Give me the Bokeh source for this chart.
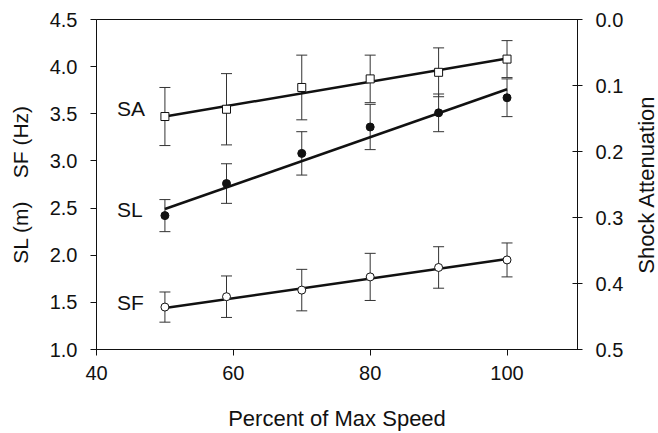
import math
from bokeh.plotting import figure
from bokeh.layouts import row
from bokeh.models import (Range1d, LinearAxis, Whisker, TeeHead, ColumnDataSource,
                          FixedTicker, NumeralTickFormatter)
from bokeh.core.properties import value
from bokeh.embed import file_html
from bokeh.resources import INLINE

# ---- data ----
speed = [50, 59, 70, 80, 90, 100]

sl_mean = [2.42, 2.76, 3.08, 3.36, 3.51, 3.67]
sl_sd = [0.17, 0.21, 0.23, 0.24, 0.20, 0.20]

sf_mean = [1.45, 1.56, 1.63, 1.77, 1.87, 1.95]
sf_sd = [0.16, 0.22, 0.22, 0.25, 0.22, 0.18]

# shock attenuation (right axis, inverted)
sa_mean = [0.147, 0.136, 0.103, 0.090, 0.080, 0.060]
sa_sd = [0.044, 0.054, 0.049, 0.036, 0.037, 0.028]

fit_x = [50, 100]
sl_fit = [2.49, 3.76]
sf_fit = [1.44, 1.96]
sa_fit = [0.147, 0.059]

label_x = [43.0, 43.0, 43.0]
label_y = [3.56, 2.49, 1.50]
label_text = ["SA", "SL", "SF"]

left_ticks = [1.0, 1.5, 2.0, 2.5, 3.0, 3.5, 4.0, 4.5]
right_ticks = [0.0, 0.1, 0.2, 0.3, 0.4, 0.5]
x_ticks = [40, 60, 80, 100]

right_title = "Shock Attenuation"

FONT = "Liberation Sans"
INK = "#111111"
NB = "\u00a0"

MAIN_W, STRIP_W, H = 630, 28, 433
Y0, Y1 = 1.0, 4.5

p = figure(width=MAIN_W, height=H, x_range=Range1d(40, 110.3), y_range=Range1d(Y0, Y1),
           output_backend="svg", toolbar_location=None,
           min_border_left=96, min_border_right=53, min_border_top=19, min_border_bottom=83)
p.extra_y_ranges = {"sa": Range1d(0.5, 0.0)}

p.xgrid.visible = False
p.ygrid.visible = False
p.outline_line_color = INK
p.outline_line_width = 1
p.background_fill_color = "white"
p.border_fill_color = "white"


def style_axis(ax, ticks):
    ax.ticker = FixedTicker(ticks=ticks)
    ax.minor_tick_line_color = None
    ax.axis_line_color = INK
    ax.major_tick_line_color = INK
    ax.major_label_text_font = FONT
    ax.major_label_text_font_size = "20px"
    ax.major_label_text_color = INK
    ax.axis_label_text_font = FONT
    ax.axis_label_text_font_style = "normal"
    ax.axis_label_text_font_size = "21px"
    ax.axis_label_text_color = INK


xa = p.xaxis[0]
style_axis(xa, x_ticks)
xa.major_tick_out = 6
xa.major_tick_in = 0
xa.major_label_standoff = 10
xa.axis_label = "Percent of Max Speed"
xa.axis_label_text_font_size = "22px"
xa.axis_label_standoff = 23

ya = p.yaxis[0]
style_axis(ya, left_ticks)
ya.major_tick_out = 6
ya.major_tick_in = 0
ya.major_label_standoff = 13
ya.axis_label = "SL (m)" + NB * 4 + "SF (Hz)"
ya.axis_label_standoff = 15
ya.formatter = NumeralTickFormatter(format="0.0")

ra = LinearAxis(y_range_name="sa")
style_axis(ra, right_ticks)
ra.major_tick_out = 5
ra.major_tick_in = 5
ra.major_label_standoff = 13
ra.formatter = NumeralTickFormatter(format="0.0")
p.add_layout(ra, "right")


# ---- error bars ----
def bars(xs, m, sd, range_name=None):
    src = ColumnDataSource(dict(x=xs, upper=[a + b for a, b in zip(m, sd)],
                                lower=[a - b for a, b in zip(m, sd)]))
    w = Whisker(base="x", upper="upper", lower="lower", source=src,
                line_color="#333333", line_width=1,
                upper_head=TeeHead(size=11, line_color="#333333", line_width=1),
                lower_head=TeeHead(size=11, line_color="#333333", line_width=1))
    if range_name:
        w.y_range_name = range_name
    p.add_layout(w)


bars(speed, sa_mean, sa_sd, "sa")
bars(speed, sl_mean, sl_sd)
bars(speed, sf_mean, sf_sd)

# ---- regression lines ----
p.line(fit_x, sa_fit, y_range_name="sa", line_color=INK, line_width=2.5)
p.line(fit_x, sl_fit, line_color=INK, line_width=2.5)
p.line(fit_x, sf_fit, line_color=INK, line_width=2.5)

# ---- markers ----
p.scatter(speed, sa_mean, y_range_name="sa", marker="square", size=8,
          fill_color="white", line_color=INK, line_width=1)
p.scatter(speed, sl_mean, marker="circle", size=8, fill_color=INK, line_color=INK)
p.scatter(speed, sf_mean, marker="circle", size=8, fill_color="white",
          line_color=INK, line_width=1)

# ---- series labels ----
p.text(x=label_x, y=label_y, text=label_text, text_font=value(FONT),
       text_font_size="21px", text_baseline="middle", text_align="left", text_color=INK)

# ---- right-hand axis title, drawn in a thin strip next to the plot ----
# the row aligns the strip's frame with the main frame, so share its y span
strip = figure(width=STRIP_W, height=H, x_range=Range1d(0, STRIP_W), y_range=Range1d(Y0, Y1),
               output_backend="svg", toolbar_location=None,
               x_axis_location=None, y_axis_location=None, min_border=0)
strip.grid.visible = False
strip.outline_line_color = None
strip.background_fill_color = "white"
strip.border_fill_color = "white"
strip.text(x=[16], y=[(Y0 + Y1) / 2], text=[right_title], angle=math.pi / 2,
           text_font=value(FONT), text_font_size="22px", text_align="center",
           text_baseline="middle", text_color=INK)

layout = row(p, strip)
open("out.html", "w").write(file_html(layout, INLINE))
